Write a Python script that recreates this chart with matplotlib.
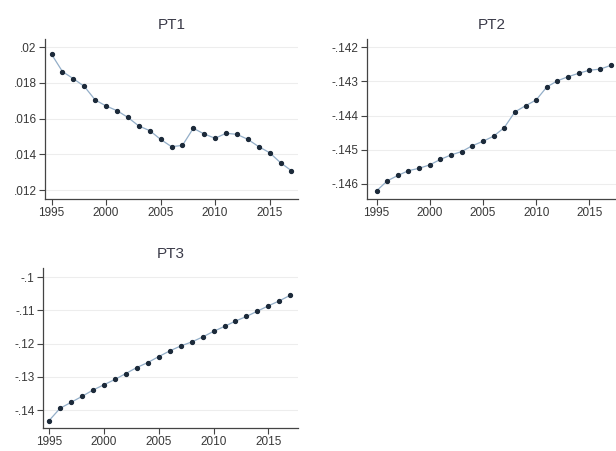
import matplotlib
matplotlib.use("Agg")
import matplotlib.pyplot as plt

plt.rcParams['font.family'] = ['Liberation Sans', 'DejaVu Sans']

years = list(range(1995, 2018))

pt1 = [.01961, .01864, .01824, .01781, .01705, .01671, .01645, .01607,
       .01559, .01533, .01484, .01443, .01450, .01546, .01514, .01490,
       .01518, .01512, .01484, .01443, .01409, .01353, .01308]
pt2 = [-.14620, -.14591, -.14575, -.14561, -.14554, -.14544, -.14528, -.14515,
       -.14505, -.14488, -.14475, -.14460, -.14435, -.14389, -.14371, -.14354,
       -.14316, -.14298, -.14286, -.14276, -.14267, -.14264, -.14253]
pt3 = [-.1432, -.1395, -.1377, -.1359, -.1340, -.1324, -.1308, -.1290,
       -.1272, -.1257, -.1239, -.1222, -.1207, -.1195, -.1180, -.1163,
       -.1148, -.1132, -.1118, -.1102, -.1086, -.1071, -.1054]

xticks = [1995, 2000, 2005, 2010, 2015]
yticks1 = [.012, .014, .016, .018, .02]
ylabels1 = ['.012', '.014', '.016', '.018', '.02']
yticks2 = [-.146, -.145, -.144, -.143, -.142]
ylabels2 = ['-.146', '-.145', '-.144', '-.143', '-.142']
yticks3 = [-.14, -.13, -.12, -.11, -.1]
ylabels3 = ['-.14', '-.13', '-.12', '-.11', '-.1']

W, H = 616, 451
fig = plt.figure(figsize=(W / 100, H / 100), dpi=100)


def panel(left, right, top, bottom):
    return fig.add_axes([left / W, (H - bottom) / H, (right - left) / W, (bottom - top) / H])


def draw(ax, y, title, yticks, ylabels, xlim, ylim):
    ax.plot(years, y, color='#93aec8', lw=0.9, zorder=2)
    ax.plot(years, y, ls='none', marker='o', ms=2.8, color='#1c2a3a', zorder=3)
    ax.set_xlim(*xlim)
    ax.set_ylim(*ylim)
    ax.set_xticks(xticks)
    ax.set_yticks(yticks)
    ax.set_yticklabels(ylabels)
    ax.grid(axis='y', color='#ededed', lw=0.8)
    ax.set_axisbelow(True)
    for s in ['top', 'right']:
        ax.spines[s].set_visible(False)
    for s in ['left', 'bottom']:
        ax.spines[s].set_color('#444444')
        ax.spines[s].set_linewidth(0.9)
    ax.tick_params(direction='out', length=4, width=0.8, color='#444444',
                   labelsize=8.5, labelcolor='#383838', pad=2)
    ax.set_title(title, fontsize=11, color='#3a3a48', pad=7)


ax1 = panel(45, 298, 39, 199)
draw(ax1, pt1, 'PT1', yticks1, ylabels1, (1994.4, 2017.6), (.011496, .020465))

ax2 = panel(367, 616, 39, 199)
draw(ax2, pt2, 'PT2', yticks2, ylabels2, (1994.1, 2017.5), (-.146439, -.141757))

ax3 = panel(43, 298, 268, 428)
draw(ax3, pt3, 'PT3', yticks3, ylabels3, (1994.45, 2017.7), (-.14542, -.0972))

fig.savefig('out.png', dpi=100)
